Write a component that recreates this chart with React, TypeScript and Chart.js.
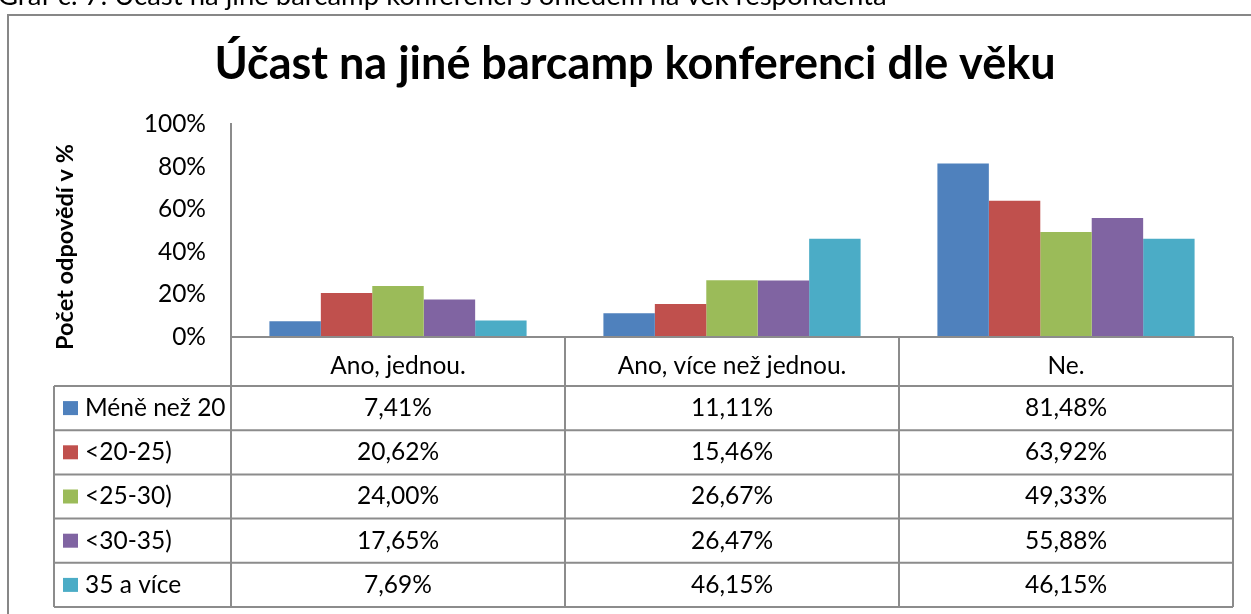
import React, { useEffect, useRef } from 'react';
import { Chart, registerables } from 'chart.js';

Chart.register(...registerables);

// ---- data ----
const categories = ['Ano, jednou.', 'Ano, více než jednou.', 'Ne.'];
const seriesNames = ['Méně než 20', '<20-25)', '<25-30)', '<30-35)', '35 a více'];
const lessThan20 = [7.41, 11.11, 81.48];
const from20to25 = [20.62, 15.46, 63.92];
const from25to30 = [24.0, 26.67, 49.33];
const from30to35 = [17.65, 26.47, 55.88];
const over35 = [7.69, 46.15, 46.15];
const seriesValues = [lessThan20, from20to25, from25to30, from30to35, over35];
const seriesColors = ['#4F81BD', '#C0504D', '#9BBB59', '#8064A2', '#4BACC6'];
const yTickValues = [0, 20, 40, 60, 80, 100];

const chartTitle = 'Účast na jiné barcamp konferenci dle věku';
const yAxisTitle = 'Počet odpovědí v %';
const caption = 'Graf č. 7: Účast na jiné barcamp konferenci s ohledem na věk respondenta';

// ---- styling ----
const FONT = 'Lato, "Noto Sans", sans-serif';
const LINE = '#8c8c8c';
const W = 1251;
const H = 614;
const TXT = 24.5;

const fmt = (v: number) => v.toFixed(2).replace('.', ',') + '%';

const decorPlugin = {
  id: 'decor',
  beforeDraw(chart: any) {
    const { ctx, width, height } = chart;
    ctx.save();
    ctx.fillStyle = '#ffffff';
    ctx.fillRect(0, 0, width, height);
    // cut-off caption above the chart box
    ctx.fillStyle = '#000';
    ctx.font = `27.5px ${FONT}`;
    ctx.textAlign = 'left';
    ctx.textBaseline = 'alphabetic';
    ctx.fillText(caption, -2, 5);
    // chart box border
    ctx.strokeStyle = '#878787';
    ctx.lineWidth = 2;
    ctx.strokeRect(8, 15, width + 50, height + 50);
    // title
    ctx.font = `bold 45px ${FONT}`;
    ctx.textAlign = 'center';
    ctx.fillText(chartTitle, 635, 79);
    // y axis title
    ctx.save();
    ctx.translate(65, 247);
    ctx.rotate(-Math.PI / 2);
    ctx.font = `bold 23.5px ${FONT}`;
    ctx.textAlign = 'center';
    ctx.textBaseline = 'middle';
    ctx.fillText(yAxisTitle, 0, 0);
    ctx.restore();
    ctx.restore();
  },
  afterDraw(chart: any) {
    const { ctx, chartArea } = chart;
    const n = categories.length;
    const colW = (chartArea.right - chartArea.left) / n;
    const headerTop = chartArea.bottom;
    const headerBottom = headerTop + 49;
    const rowH = 44.2;
    const tableLeft = 54;
    const tableBottom = headerBottom + rowH * seriesNames.length;
    ctx.save();
    ctx.strokeStyle = LINE;
    ctx.lineWidth = 2;
    ctx.beginPath();
    ctx.moveTo(chartArea.left, headerTop);
    ctx.lineTo(chartArea.right, headerTop);
    for (let r = 0; r <= seriesNames.length; r++) {
      const y = headerBottom + r * rowH;
      ctx.moveTo(tableLeft, y);
      ctx.lineTo(chartArea.right, y);
    }
    for (let c = 0; c <= n; c++) {
      const x = chartArea.left + c * colW;
      ctx.moveTo(x, headerTop);
      ctx.lineTo(x, tableBottom);
    }
    ctx.moveTo(tableLeft, headerBottom);
    ctx.lineTo(tableLeft, tableBottom);
    ctx.stroke();

    ctx.fillStyle = '#000';
    ctx.font = `${TXT}px ${FONT}`;
    ctx.textBaseline = 'middle';
    const xScale = chart.scales.x;
    seriesNames.forEach((name, r) => {
      const cy = headerBottom + r * rowH + rowH / 2;
      ctx.fillStyle = seriesColors[r];
      ctx.fillRect(63, cy - 7, 15, 14);
      ctx.fillStyle = '#000';
      ctx.textAlign = 'left';
      ctx.fillText(name, 85, cy);
      ctx.textAlign = 'center';
      seriesValues[r].forEach((v, c) => {
        ctx.fillText(fmt(v), xScale.getPixelForValue(c), cy);
      });
    });
    ctx.restore();
  },
};

export default function App() {
  const ref = useRef<HTMLCanvasElement | null>(null);
  useEffect(() => {
    if (!ref.current) return;
    const chart = new Chart(ref.current, {
      type: 'bar',
      data: {
        labels: categories,
        datasets: seriesNames.map((name, i) => ({
          label: name,
          data: seriesValues[i],
          backgroundColor: seriesColors[i],
          borderWidth: 0,
          categoryPercentage: 0.77,
          barPercentage: 1.0,
        })),
      },
      options: {
        animation: false,
        responsive: false,
        events: [],
        layout: { padding: { top: 124, left: 0, right: W - 1233, bottom: 0 } },
        plugins: {
          legend: { display: false },
          title: { display: false },
          tooltip: { enabled: false },
        },
        scales: {
          x: {
            grid: { display: false },
            border: { display: false },
            ticks: {
              color: '#000',
              font: { family: FONT, size: TXT },
              padding: 6,
              maxRotation: 0,
              autoSkip: false,
            },
            afterFit: (s: any) => {
              s.height = H - 337;
            },
          },
          y: {
            min: 0,
            max: 100,
            grid: { display: false },
            border: { display: true, color: LINE, width: 2 },
            afterBuildTicks: (s: any) => {
              s.ticks = yTickValues.map((v) => ({ value: v }));
            },
            ticks: {
              color: '#000',
              font: { family: FONT, size: TXT },
              padding: 17,
              callback: (v: any) => `${v}%`,
            },
            afterFit: (s: any) => {
              s.width = 231;
            },
          },
        },
      },
      plugins: [decorPlugin],
    });
    return () => chart.destroy();
  }, []);
  return (
    <div style={{ position: 'fixed', left: 0, top: 0, width: W, height: H, overflow: 'hidden', background: '#fff' }}>
      <canvas ref={ref} width={W} height={H} style={{ display: 'block', width: W, height: H }} />
    </div>
  );
}
